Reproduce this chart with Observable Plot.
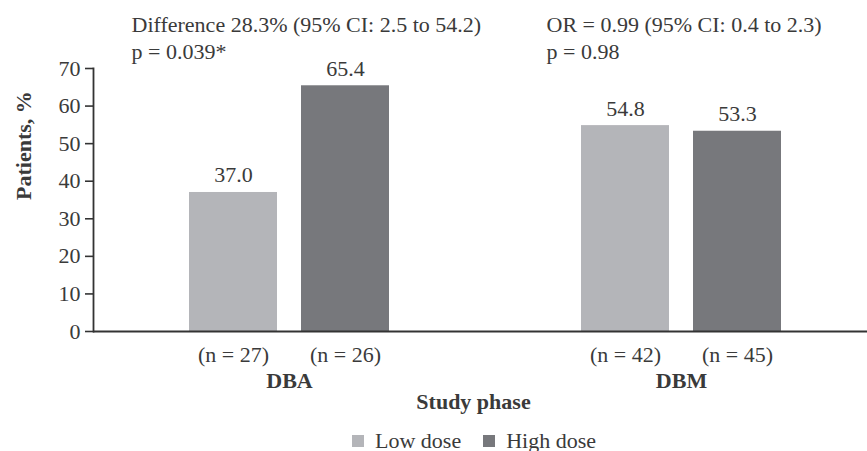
<!DOCTYPE html>
<html>
<head>
<meta charset="utf-8">
<script src="https://cdn.jsdelivr.net/npm/d3@7"></script>
<script src="https://cdn.jsdelivr.net/npm/@observablehq/plot@0.6"></script>
<style>
  body { margin: 0; background: white; }
  #wrap { position: relative; width: 867px; height: 451px; font-family: "Liberation Serif", serif; color: #3a3a3a; }
  #legend { position: absolute; left: 352px; top: 424px; }
</style>
</head>
<body>
<div id="wrap"><div id="chart"></div><div id="legend"></div></div>
<script>
const phases = ["DBA", "DBM"];
const doses = ["Low dose", "High dose"];
const lowValues = [37.0, 54.8];
const highValues = [65.4, 53.3];
const lowN = [27, 42];
const highN = [26, 45];
const annotationLines = [
  "Difference 28.3% (95% CI: 2.5 to 54.2)\np = 0.039*",
  "OR = 0.99 (95% CI: 0.4 to 2.3)\np = 0.98"
];
const yTicks = [0, 10, 20, 30, 40, 50, 60, 70];
const colors = ["#b4b5b9", "#77787c"];
const ink = "#3a3a3a";

const lowRows = phases.map((p, i) => ({phase: p, dose: doses[0], value: lowValues[i], n: lowN[i]}));
const highRows = phases.map((p, i) => ({phase: p, dose: doses[1], value: highValues[i], n: highN[i]}));
const notes = phases.map((p, i) => ({phase: p, text: annotationLines[i]}));

const fs = 22;
const chart = Plot.plot({
  width: 867,
  height: 420,
  marginLeft: 93,
  marginRight: 0,
  marginTop: 68,
  marginBottom: 89,
  style: {fontFamily: "'Liberation Serif', serif", fontSize: "22px", color: ink, background: "white", overflow: "visible"},
  x: {domain: phases, paddingInner: 0.4898, paddingOuter: 0.2309, align: 0.5262, axis: null},
  y: {domain: [0, 70], axis: null},
  color: {domain: doses, range: colors},
  marks: [
    Plot.barY(lowRows, {x: "phase", y: "value", fill: "dose", insetRight: 112}),
    Plot.barY(highRows, {x: "phase", y: "value", fill: "dose", insetLeft: 112}),
    Plot.text(lowRows, {x: "phase", y: "value", text: d => d.value.toFixed(1), dx: -56, dy: -10, lineAnchor: "bottom", fill: ink, fontSize: fs}),
    Plot.text(highRows, {x: "phase", y: "value", text: d => d.value.toFixed(1), dx: 56, dy: -10, lineAnchor: "bottom", fill: ink, fontSize: fs}),
    Plot.text(lowRows, {x: "phase", text: d => `(n = ${d.n})`, frameAnchor: "bottom", dx: -56, dy: 23, lineAnchor: "middle", fill: ink, fontSize: fs}),
    Plot.text(highRows, {x: "phase", text: d => `(n = ${d.n})`, frameAnchor: "bottom", dx: 56, dy: 23, lineAnchor: "middle", fill: ink, fontSize: fs}),
    Plot.text(phases, {x: d => d, text: d => d, frameAnchor: "bottom", dy: 49, lineAnchor: "middle", fontWeight: "bold", fill: ink, fontSize: fs}),
    Plot.text(["Study phase"], {text: d => d, frameAnchor: "bottom", dx: -7, dy: 70, lineAnchor: "middle", fontWeight: "bold", fill: ink, fontSize: fs}),
    Plot.text(["Patients, %"], {text: d => d, frameAnchor: "left", rotate: -90, dx: -70, lineAnchor: "middle", fontWeight: "bold", fill: ink, fontSize: fs}),
    Plot.text(notes.slice(0, 1), {x: "phase", text: "text", frameAnchor: "top", textAnchor: "start", lineAnchor: "top", dx: -158, dy: -55.6, lineHeight: 1.23, fill: ink, fontSize: fs}),
    Plot.text(notes.slice(1, 2), {x: "phase", text: "text", frameAnchor: "top", textAnchor: "start", lineAnchor: "top", dx: -135, dy: -55.6, lineHeight: 1.23, fill: ink, fontSize: fs}),
    Plot.axisY({ticks: yTicks, tickSize: 8, tickPadding: 5, stroke: "#333", strokeWidth: 1.6, fill: ink, fontSize: fs, label: null}),
    Plot.frame({anchor: "left", stroke: "#333", strokeWidth: 1.8}),
    Plot.ruleY([0], {stroke: "#333", strokeWidth: 1.8})
  ]
});
document.getElementById("chart").appendChild(chart);

const legend = Plot.legend({
  color: {domain: doses, range: colors},
  swatchSize: 12,
  style: {fontFamily: "'Liberation Serif', serif", fontSize: "22px", color: ink, background: "white"}
});
document.getElementById("legend").appendChild(legend);
</script>
</body>
</html>
